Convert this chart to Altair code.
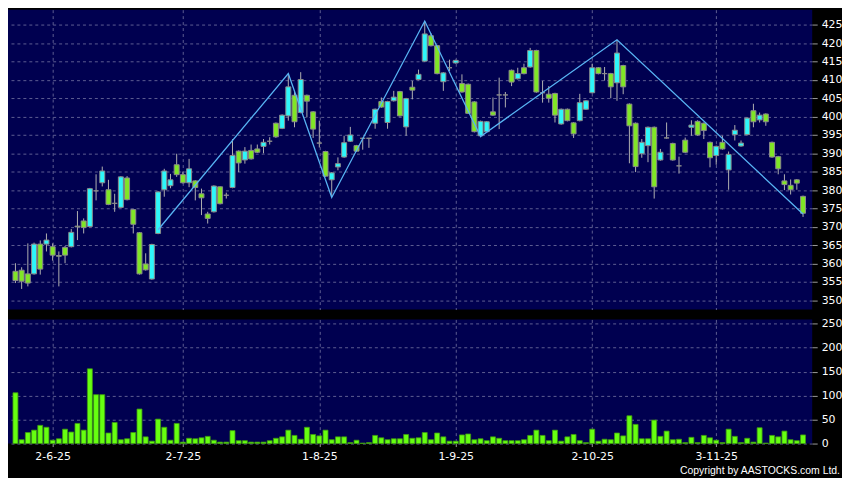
import altair as alt
import pandas as pd
import numpy as np

opens = [357.9, 358.2, 357.2, 357.2, 365.3, 365.3, 364.6, 362.2, 364.4, 364.6,
         370.2, 371.6, 370.1, 379.8, 382.0, 380.1, 376.4, 375.3, 383.3, 374.7,
         368.4, 359.9, 355.8, 368.2, 380.1, 381.2, 386.9, 384.2, 382.0, 382.5,
         379.0, 373.5, 374.1, 380.9, 378.6, 380.7, 390.6, 388.2, 390.8, 391.2,
         391.9, 393.3, 398.2, 396.8, 400.2, 405.8, 401.1, 405.8, 401.3, 392.8,
         390.5, 382.8, 386.3, 389.0, 393.3, 392.1, 394.1, 394.1, 398.2, 404.1,
         398.4, 404.3, 406.8, 397.2, 408.0, 410.1, 415.1, 422.0, 419.3, 409.5,
         413.3, 414.6, 409.0, 408.8, 404.0, 394.8, 395.9, 401.3, 405.9, 405.9,
         412.6, 410.3, 413.3, 413.5, 418.0, 406.5, 406.1, 406.3, 398.0, 402.0,
         398.3, 398.9, 402.0, 406.5, 413.3, 411.7, 411.7, 409.2, 413.9, 403.4,
         398.2, 389.9, 392.1, 397.1, 388.2, 394.2, 392.7, 386.6, 393.6, 397.1,
         398.7, 398.2, 393.0, 389.4, 393.0, 385.5, 395.1, 392.0, 395.1, 401.6,
         399.1, 400.7, 393.0, 389.1, 382.5, 381.3, 382.8, 378.3]
highs = [360.1, 359.0, 365.5, 365.7, 366.3, 368.2, 365.5, 363.3, 364.8, 369.4,
         374.3, 372.3, 380.6, 384.3, 386.4, 382.8, 379.0, 383.8, 383.8, 374.9,
         368.6, 362.8, 365.4, 379.7, 385.8, 384.4, 389.9, 385.0, 388.5, 382.7,
         380.4, 374.1, 381.3, 381.0, 379.3, 393.9, 390.8, 391.7, 392.4, 392.4,
         393.9, 394.4, 398.4, 400.6, 411.7, 406.9, 412.1, 406.0, 401.5, 398.9,
         390.7, 384.9, 388.9, 394.8, 397.2, 392.3, 394.2, 394.2, 402.2, 405.2,
         404.3, 407.0, 407.0, 405.1, 409.7, 412.8, 426.0, 422.7, 419.5, 412.1,
         415.5, 415.5, 411.5, 409.0, 404.2, 398.9, 398.8, 405.2, 410.6, 406.7,
         412.8, 413.3, 414.4, 418.7, 418.2, 409.7, 408.3, 406.5, 402.2, 402.2,
         398.5, 406.2, 404.5, 414.4, 413.5, 413.5, 411.9, 420.9, 414.1, 403.6,
         398.4, 393.9, 397.3, 397.3, 391.2, 398.4, 392.9, 389.1, 394.3, 399.0,
         399.0, 398.4, 393.2, 392.1, 394.8, 390.5, 397.7, 393.5, 399.8, 403.5,
         401.1, 400.9, 393.2, 389.3, 384.3, 382.9, 383.0, 378.5]
lows = [354.7, 353.1, 353.8, 357.0, 357.0, 363.3, 360.8, 353.8, 360.1, 364.4,
        366.4, 368.2, 369.9, 377.2, 381.0, 375.9, 374.1, 375.1, 377.2, 368.2,
        357.0, 358.1, 355.6, 368.0, 378.2, 380.5, 383.6, 381.8, 380.8, 377.2,
        373.2, 370.9, 373.9, 376.1, 377.7, 380.5, 384.9, 387.2, 388.3, 390.1,
        390.0, 392.4, 394.2, 396.6, 398.9, 397.1, 400.9, 399.8, 394.2, 391.6,
        383.6, 378.1, 385.4, 388.8, 393.1, 390.4, 391.0, 391.5, 396.7, 402.4,
        396.7, 404.1, 400.0, 394.8, 404.7, 409.9, 414.9, 419.1, 411.5, 407.0,
        412.4, 414.4, 406.5, 400.7, 395.7, 394.4, 395.7, 400.2, 396.6, 402.5,
        408.3, 410.1, 411.5, 413.3, 406.5, 403.8, 403.8, 398.4, 397.8, 398.7,
        394.2, 398.7, 401.8, 406.3, 411.5, 409.8, 405.0, 404.3, 406.1, 387.3,
        384.9, 388.8, 387.6, 377.7, 388.0, 394.0, 388.0, 384.5, 390.1, 394.8,
        394.8, 393.9, 386.2, 386.9, 391.0, 380.1, 393.5, 391.8, 394.9, 397.1,
        398.4, 397.5, 388.8, 384.3, 380.0, 378.8, 380.1, 372.7]
closes = [355.4, 355.2, 354.7, 365.3, 358.5, 366.4, 362.3, 362.0, 362.3, 368.5,
          370.0, 369.8, 380.4, 379.8, 385.2, 376.1, 376.4, 383.6, 377.4, 370.7,
          357.2, 358.3, 365.2, 379.5, 385.2, 382.8, 384.2, 382.0, 385.8, 380.7,
          377.9, 372.3, 381.1, 376.3, 378.6, 389.4, 387.4, 390.6, 388.5, 390.3,
          393.0, 393.3, 394.5, 400.4, 408.1, 398.6, 410.1, 404.2, 396.6, 392.8,
          383.8, 384.7, 387.2, 392.9, 395.0, 390.6, 394.1, 394.1, 402.0, 402.6,
          404.1, 405.3, 400.2, 404.9, 407.2, 411.5, 422.5, 419.3, 411.7, 411.9,
          413.3, 415.3, 406.7, 400.9, 395.9, 398.7, 398.6, 400.4, 405.9, 405.9,
          409.4, 411.7, 411.7, 418.0, 406.7, 406.5, 405.0, 400.4, 402.0, 398.9,
          395.3, 403.8, 404.3, 413.3, 411.7, 411.7, 408.1, 417.3, 408.1, 397.5,
          386.4, 393.0, 397.1, 380.9, 390.3, 394.2, 388.2, 386.6, 390.3, 397.7,
          395.0, 396.2, 388.8, 391.9, 391.2, 389.7, 396.3, 392.8, 399.6, 398.6,
          400.4, 398.6, 389.0, 385.8, 381.5, 380.1, 381.9, 373.7]
volumes = [106, 8, 23, 28, 38, 34, 7, 10, 30, 24,
           42, 28, 156, 102, 102, 22, 44, 8, 10, 23,
           72, 14, 5, 51, 34, 7, 42, 3, 11, 10,
           12, 15, 7, 3, 3, 27, 6, 6, 3, 3,
           3, 6, 11, 14, 28, 17, 9, 34, 19, 16,
           28, 8, 14, 14, 2, 7, 1, 2, 17, 12,
           8, 10, 10, 19, 11, 12, 23, 8, 22, 14,
           5, 5, 18, 20, 8, 10, 6, 14, 11, 6,
           6, 6, 8, 17, 28, 17, 6, 28, 5, 14,
           19, 6, 2, 30, 5, 9, 8, 22, 16, 58,
           40, 10, 10, 49, 15, 26, 8, 9, 2, 13,
           2, 17, 12, 7, 2, 30, 15, 2, 11, 3,
           33, 1, 17, 14, 26, 8, 6, 18]

tick_index = [6, 27, 49, 71, 93, 113]
tick_labels = ["2-6-25", "2-7-25", "1-8-25", "1-9-25", "2-10-25", "3-11-25"]
zigzag_index = [23, 44, 51, 66, 75, 97, 127]
zigzag_price = [369.2, 411.7, 378.0, 426.0, 394.6, 420.9, 373.5]
price_ticks = list(range(350, 426, 5))
volume_ticks = [0, 50, 100, 150, 200, 250]
copyright_text = "Copyright by AASTOCKS.com Ltd."

n = len(opens)
o = np.array(opens)
c = np.array(closes)
df = pd.DataFrame({
    "i": np.arange(n), "open": o, "high": highs, "low": lows, "close": c,
    "vol": volumes,
    "dir": np.where(c > o, "up", np.where(c < o, "down", "flat")),
})
zz = pd.DataFrame({"i": zigzag_index, "price": zigzag_price})

FONT = "DejaVu Sans"
x_scale = alt.Scale(domain=[-0.4, 127.68], nice=False, zero=False)
label_expr = "[" + ",".join("'%s'" % t for t in tick_labels) + "][indexof([" + \
    ",".join(str(v) for v in tick_index) + "], datum.value)]"

x_top = alt.X("i:Q", scale=x_scale, title=None,
              axis=alt.Axis(values=tick_index, labels=False, ticks=False,
                            domain=False, grid=True))
x_bot = alt.X("i:Q", scale=x_scale, title=None,
              axis=alt.Axis(values=tick_index, labelExpr=label_expr, ticks=True,
                            tickSize=3, domain=False, grid=True, labelPadding=4,
                            labelFlush=False, labelOverlap=False))

y_scale = alt.Scale(domain=[347.5, 429.1], nice=False, zero=False)
y_axis = alt.Axis(orient="right", values=price_ticks, tickSize=5, labelPadding=4,
                  grid=True, domain=False, labelFlush=False, labelOverlap=False)

wicks = alt.Chart(df).mark_rule(color="#b0b0b0", strokeWidth=1).encode(
    x=x_top,
    y=alt.Y("low:Q", scale=y_scale, axis=y_axis, title=None),
    y2="high:Q",
)
bodies = alt.Chart(df).mark_bar(width=5, stroke="#8a8a8a", strokeWidth=1).encode(
    x=x_top,
    y=alt.Y("open:Q", scale=y_scale, axis=y_axis, title=None),
    y2="close:Q",
    color=alt.Color("dir:N", legend=None,
                    scale=alt.Scale(domain=["up", "down", "flat"],
                                    range=["#2ef6fa", "#80e626", "#b8b8b8"])),
)
zigzag = alt.Chart(zz).mark_line(color="#58b4f4", strokeWidth=1.3).encode(
    x=x_top,
    y=alt.Y("price:Q", scale=y_scale, axis=y_axis, title=None),
)
top = alt.layer(wicks, bodies, zigzag).properties(width=810, height=302)

vol_bars = alt.Chart(df).mark_bar(width=5, color="#66ff10", stroke="#3f9a10",
                                  strokeWidth=0.8).encode(
    x=x_bot,
    y=alt.Y("vol:Q", title=None,
            scale=alt.Scale(domain=[0, 259], nice=False, zero=True),
            axis=alt.Axis(orient="right", values=volume_ticks, tickSize=5,
                          labelPadding=4, grid=True, domain=False,
                          labelFlush=False, labelOverlap=False)),
)
copyright = alt.Chart(pd.DataFrame({"t": [copyright_text]})).mark_text(
    align="right", baseline="alphabetic", color="white",
    font="Liberation Sans", fontSize=10.5
).encode(x=alt.value(838), y=alt.value(156), text="t:N")
bottom = alt.layer(vol_bars, copyright).properties(width=810, height=125)

chart = alt.vconcat(top, bottom, spacing=8).properties(
    padding={"left": 0, "top": 0, "right": 0, "bottom": 0},
    background="black",
).configure_view(fill="#000050", stroke=None).configure_axis(
    labelColor="white", labelFont=FONT, labelFontSize=11,
    tickColor="#9a9a9a", gridColor="#5e5e92", gridDash=[3, 3], gridWidth=1,
)

chart.save("out.html", embed_options={"renderer": "svg", "actions": False})
